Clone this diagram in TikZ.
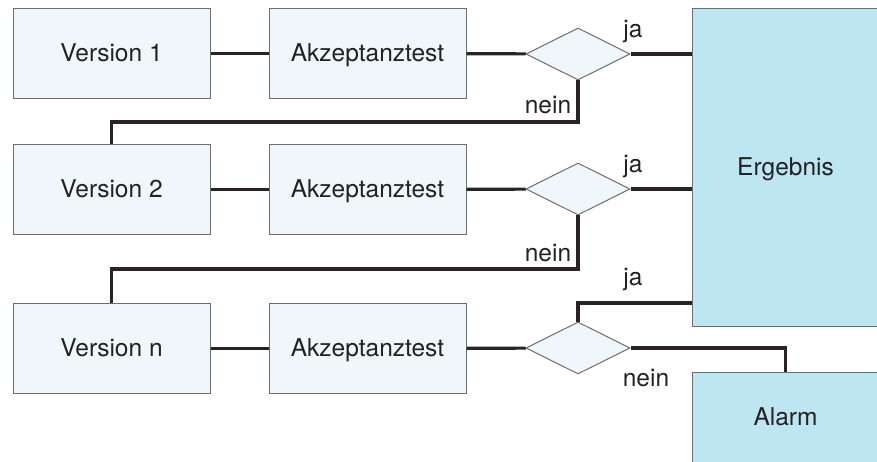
\documentclass[tikz,border=0pt]{standalone}
\usepackage{fontspec}
\setmainfont{TeX Gyre Heros}
\usepackage{tikz}
\usetikzlibrary{shapes.geometric}

\definecolor{paleblue}{HTML}{EFF7FB}
\definecolor{resultblue}{HTML}{BEE5F2}
\definecolor{framegray}{HTML}{6E6E6E}
\definecolor{linedark}{HTML}{2A2224}
\definecolor{textdark}{HTML}{222222}

\begin{document}
\begin{tikzpicture}[
  x=1pt, y=-1pt,
  font=\fontsize{24.5}{29}\selectfont,
  text=textdark,
  procnode/.style={draw=framegray,fill=paleblue,line width=1pt,minimum width=197pt,minimum height=90pt,inner sep=0pt,text height=17.6pt,text depth=2.5pt},
  testnode/.style={diamond,draw=framegray,fill=paleblue,line width=1pt,minimum width=104pt,minimum height=52pt,inner sep=0pt},
  resnode/.style={draw=framegray,fill=resultblue,line width=1pt,inner sep=0pt,text height=17.6pt,text depth=2.5pt},
  ]
  \tikzset{%
    flow/.style={
      draw=linedark,
      line width=3.2pt,
    },
  }
  \useasboundingbox (0,0) rectangle (877,462);
  %Nodes
  \node[procnode](ver1) at (111.5,53.5){Version 1};
  \node[procnode](ver2) at (111.5,189.5){Version 2};
  \node[procnode](vern) at (111.5,348.5){Version n};
  \node[procnode](acc1) at (367.5,53.5){Akzeptanztest};
  \node[procnode](acc2) at (367.5,189.5){Akzeptanztest};
  \node[procnode](accn) at (367.5,348.5){Akzeptanztest};
  \node[testnode](dec1) at (578,54){};
  \node[testnode](dec2) at (578,189){};
  \node[testnode](decn) at (578,348){};
  \node[resnode,minimum width=187pt,minimum height=317pt](erg) at (785.5,167.5){Ergebnis};
  \node[resnode,minimum width=187pt,minimum height=92pt](alarm) at (785.5,418){Alarm};
  \coordinate (back1) at (111.5,122);
  \coordinate (back2) at (111.5,269);
  \coordinate (jan) at (692,303);
  %Labels
  \node(ja1) at (633,32){ja};
  \node(ja2) at (633,167){ja};
  \node(jan lbl) at (633,280){ja};
  \node(nein1) at (548,105){nein};
  \node(nein2) at (548,253){nein};
  \node(neinn) at (646,378){nein};
  %Lines
  \draw[-, flow]
    % Straight Line
    (ver1) edge[flow](acc1)
    (ver2) edge[flow](acc2)
    (vern) edge[flow](accn)
    (acc1) edge[flow](dec1)
    (acc2) edge[flow](dec2)
    (accn) edge[flow](decn)
    ;
  \draw[flow] (dec1.east) -- (dec1.east -| erg.west);
  \draw[flow] (dec2.east) -- (dec2.east -| erg.west);
  \draw[flow] (dec1.south) |- (back1) -- (ver2.north);
  \draw[flow] (dec2.south) |- (back2) -- (vern.north);
  \draw[flow] (decn.north) |- (jan);
  \draw[flow] (decn.east) -| (alarm.north);
\end{tikzpicture}
\end{document}
